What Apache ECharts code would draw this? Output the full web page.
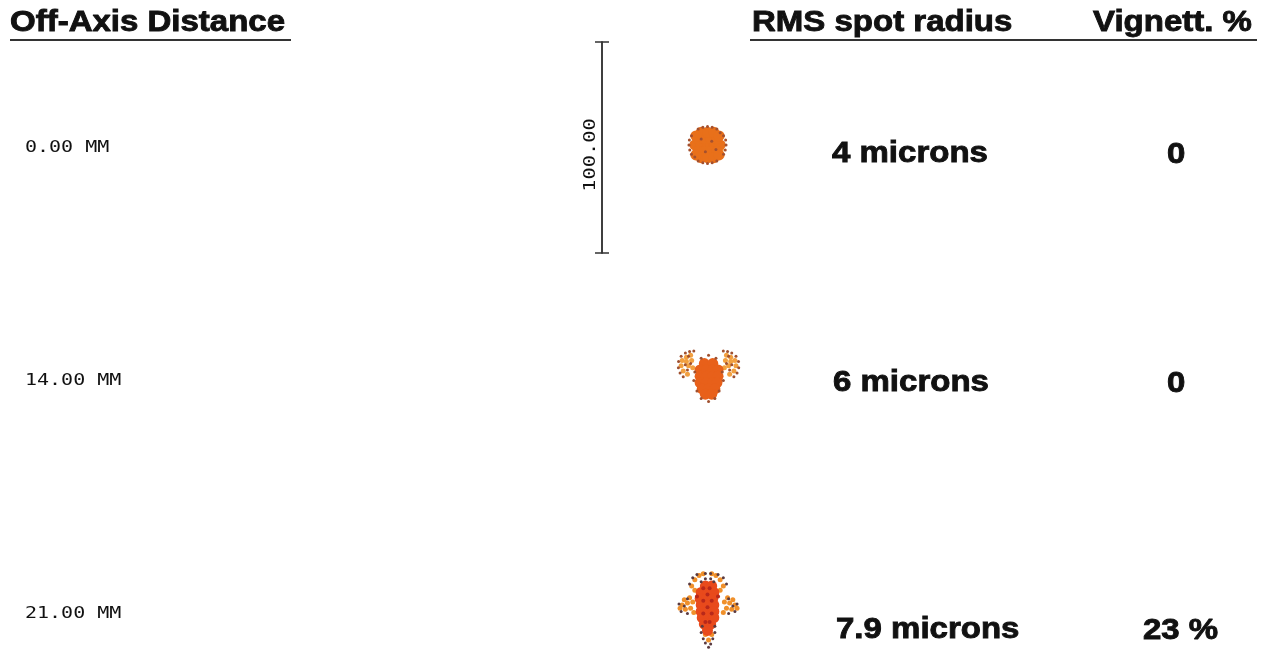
<!DOCTYPE html>
<html>
<head>
<meta charset="utf-8">
<script src="https://cdn.jsdelivr.net/npm/echarts@6/dist/echarts.min.js"></script>
<style>
  html, body { margin: 0; padding: 0; background: #fff; }
  #spotChart { width: 1271px; height: 653px; }
</style>
</head>
<body>
<div id="spotChart"></div>
<script>
// field rows
const fieldLabels = ['0.00 MM', '14.00 MM', '21.00 MM']
const rmsLabels = ['4 microns', '6 microns', '7.9 microns']
const vignLabels = ['0', '0', '23 %']
const headers = ['Off-Axis Distance', 'RMS spot radius', 'Vignett. %']
const scaleLabel = '100.00'
// scale bar ends (microns)
const scaleTicks = [-50, 50]

// spot points, microns from field centre
const spot1Core = [[-6, 1.2], [-3, 1.2], [0, 1.2], [3, 1.2], [6, 1.2], [-4.5, 4.2], [-1.5, 4.2], [1.5, 4.2], [4.5, 4.2], [-3, 7.2], [0, 7.2], [3, 7.2], [-4.5, -1.8], [-1.5, -1.8], [1.5, -1.8], [4.5, -1.8], [-3, -4.8], [0, -4.8], [3, -4.8], [-5.5, 5.5], [5.5, 5.5], [-5.5, -3.5], [5.5, -3.5]]
const spot1Light = [[-5, -3], [5, 5], [1, -6], [-6, 4], [-2, 8], [6.5, -1]]
const spot1Dots = [[8.8, 1.2], [7.6, 5.6], [4.4, 8.8], [0, 10], [-4.4, 8.8], [-7.6, 5.6], [-8.8, 1.2], [-7.6, -3.2], [-4.4, -6.4], [0, -7.6], [4.4, -6.4], [7.6, -3.2], [2, 3], [-1, -2], [-3, 4], [4, -1], [-6, -4.5], [6, 7], [-2.2, 9.6], [2.2, 9.6], [-8.6, 3.6], [8.6, 3.6], [-8.4, -1.2], [8.4, -1.2], [-2.2, -7.2], [2.2, -7.2]]

const spot2Core = [[-1.5, 8], [2.5, 8], [-3.5, 5], [-0.5, 5], [2.5, 5], [5, 5], [-3.5, 2], [-0.5, 2], [2.5, 2], [5, 2], [-3.5, -1], [-0.5, -1], [2.5, -1], [4.5, -1], [-2.5, -4], [0.5, -4], [3.5, -4], [-1, -6.5], [2, -6.5]]
const spot2Light = [[-8, 12], [-10, 11], [-12, 9.5], [-12.5, 7], [-11.5, 4.5], [-9.5, 3], [-9, 7], [-10, 9], [-7.5, 9.5], [-7, 6], [9, 12], [11, 11], [13, 9.5], [13.5, 7], [12.5, 4.5], [10.5, 3], [10, 7], [11, 9], [8.5, 9.5], [8, 6]]
const spot2Dots = [[-6.5, 14], [-8.5, 13.8], [-10.5, 13], [-12.5, 11.5], [-13.7, 9], [-13.8, 6], [-13, 3.5], [-11.5, 1.8], [-9.5, 5], [-8, 8], [-10.5, 7.5], [-9, 11.5], [7.5, 14], [9.5, 13.8], [11.5, 13], [13.5, 11.5], [14.7, 9], [14.8, 6], [14, 3.5], [12.5, 1.8], [10.5, 5], [9, 8], [11.5, 7.5], [10, 11.5], [-5, -5], [5.5, -5], [-3, -8.5], [3.5, -8.5], [0.5, -10], [-6.5, 0], [7.5, 0], [-6, 4], [7, 4], [-3, 10.5], [4, 10.5], [0.5, 12]]

const spot3Core = [[-1, 13], [2, 13], [-3, 10], [0, 10], [3, 10], [-3.5, 7], [-0.5, 7], [2.5, 7], [-3, 4], [0, 4], [3, 4], [-3, 1], [0, 1], [3, 1], [-2.5, -2], [0.5, -2], [3, -2], [-1.5, -5], [1.5, -5], [0, -8]]
const spot3Light = [[-7, 5.5], [-9.5, 5], [-12, 4], [-13, 2.5], [-10.5, 2], [-8, 2.5], [-6.5, 0.5], [-11, 6.5], [-8.5, 7.5], [8, 5.5], [10.5, 5], [13, 4], [14, 2.5], [11.5, 2], [9, 2.5], [7.5, 0.5], [12, 6.5], [9.5, 7.5], [-6, 16], [-4, 18], [-2, 18.8], [2, 18.8], [4, 18], [6, 16], [-7.5, 13], [7.5, 13], [-6, 11], [6, 11], [-1, -10], [2, -10], [0.5, -12.5]]
const spot3Stripes = [[-2, 12], [1, 12], [0, 9], [-2, 6], [2, 6], [0, 3], [-2, 0], [2, 0], [-1, -4], [1, -4], [-5, 8], [5, 8]]
const spot3Dots = [[-7, 17], [-5, 18.5], [-1, 19], [1.5, 19], [5, 18.5], [7.5, 17], [-8.5, 14], [9, 14], [-3, 15], [3, 15], [-1, 16.5], [1.5, 16.5], [-13.5, 4.5], [-12.5, 1], [-9.5, 0], [-11, 3.5], [14, 4.5], [13, 1], [10, 0], [12, 3.5], [-9.5, 7], [10, 7], [-3, -9], [3.5, -9], [-2, -12], [2.5, -12], [-1, -14], [1.5, -14.5], [0.5, -16], [-2.5, -6], [3.5, -6]]

// layout (px per micron = 2.11)
const rowCentre = [147.5, 380.5, 613.5]
const boxLeft = 602
const boxSize = 211
const pxPerMicron = 2.11
const chartHeight = 653
const textFont = 'bold 30px "Liberation Sans", Arial, sans-serif'
const monoFont = '16px "DejaVu Sans Mono", monospace'
const stretch = 1.1

const chart = echarts.init(document.getElementById('spotChart'))

function scatter(idx, pts, color, size) {
  return {
    type: 'scatter',
    xAxisIndex: idx,
    yAxisIndex: idx,
    data: pts,
    symbol: 'circle',
    symbolSize: size,
    itemStyle: { color: color, opacity: 1 },
    silent: true
  }
}

function label(text, x, y, font, sx, rot, heavy) {
  return {
    type: 'text',
    x: x,
    y: y,
    scaleX: sx,
    rotation: rot || 0,
    silent: true,
    style: {
      text: text,
      font: font,
      fill: '#111',
      stroke: heavy ? '#111' : null,
      lineWidth: heavy ? 0.9 : 0,
      textAlign: rot ? 'center' : 'left',
      textVerticalAlign: 'middle',
      align: rot ? 'center' : 'left',
      verticalAlign: 'middle'
    }
  }
}

// keep each box inside the canvas, trimming the y range if it runs past the bottom
const boxes = rowCentre.map(c => {
  const top = c - boxSize / 2
  const height = Math.min(boxSize, chartHeight - top)
  return { top: top, height: height, min: 50 - height / pxPerMicron }
})

const grids = boxes.map(b => ({
  left: boxLeft,
  top: b.top,
  width: boxSize,
  height: b.height
}))

const xAxes = boxes.map((b, i) => ({
  gridIndex: i, type: 'value', min: -50, max: 50, show: false
}))

const barLine = { show: true, onZero: false, lineStyle: { color: '#333', width: 1.5 } }
const yAxes = boxes.map((b, i) => ({
  gridIndex: i,
  type: 'value',
  position: 'left',
  min: b.min,
  max: 50,
  show: i === 0,
  axisLine: barLine,
  axisTick: { show: true, length: 7, customValues: scaleTicks, lineStyle: { color: '#333', width: 1.5 } },
  axisLabel: { show: false },
  splitLine: { show: false }
}))
// inner half of the scale bar caps
yAxes.push({
  gridIndex: 0,
  type: 'value',
  position: 'left',
  offset: 0,
  min: -50,
  max: 50,
  axisLine: barLine,
  axisTick: { show: true, inside: true, length: 7, customValues: scaleTicks, lineStyle: { color: '#333', width: 1.5 } },
  axisLabel: { show: false },
  splitLine: { show: false }
})

const graphics = [
  label(headers[0], 10, 23, textFont, stretch, 0, true),
  label(headers[1], 752, 23, textFont, stretch, 0, true),
  label(headers[2], 1093, 23, textFont, stretch, 0, true),
  { type: 'line', silent: true, shape: { x1: 10, y1: 40, x2: 291, y2: 40 }, style: { stroke: '#333', lineWidth: 2 } },
  { type: 'line', silent: true, shape: { x1: 750, y1: 40, x2: 1257, y2: 40 }, style: { stroke: '#333', lineWidth: 2 } },
  label(scaleLabel, 591, 155, monoFont, 1.27, Math.PI / 2)
]
const rmsX = [832, 833, 836]
const rmsY = [154, 383, 630]
const vignX = [1167, 1167, 1143]
fieldLabels.forEach((t, i) => {
  graphics.push(label(t, 25, rowCentre[i], monoFont, 1.25))
  graphics.push(label(rmsLabels[i], rmsX[i], rmsY[i], textFont, stretch, 0, true))
  graphics.push(label(vignLabels[i], vignX[i], rmsY[i] + 1, textFont, stretch, 0, true))
})

chart.setOption({
  backgroundColor: '#fff',
  animation: false,
  grid: grids,
  xAxis: xAxes,
  yAxis: yAxes,
  graphic: graphics,
  series: [
    scatter(0, spot1Light, '#f4a448', 5),
    scatter(0, spot1Core, '#e8701a', 11),
    scatter(0, spot1Dots, '#a4502e', 3),
    scatter(1, spot2Light, '#f2a040', 5),
    scatter(1, spot2Core, '#e8601a', 11),
    scatter(1, spot2Dots, '#a0502e', 3),
    scatter(2, spot3Light, '#f0902a', 5),
    scatter(2, spot3Core, '#e84a1c', 11),
    scatter(2, spot3Stripes, '#b8281a', 4),
    scatter(2, spot3Dots, '#5a3a40', 3)
  ]
})
</script>
</body>
</html>
